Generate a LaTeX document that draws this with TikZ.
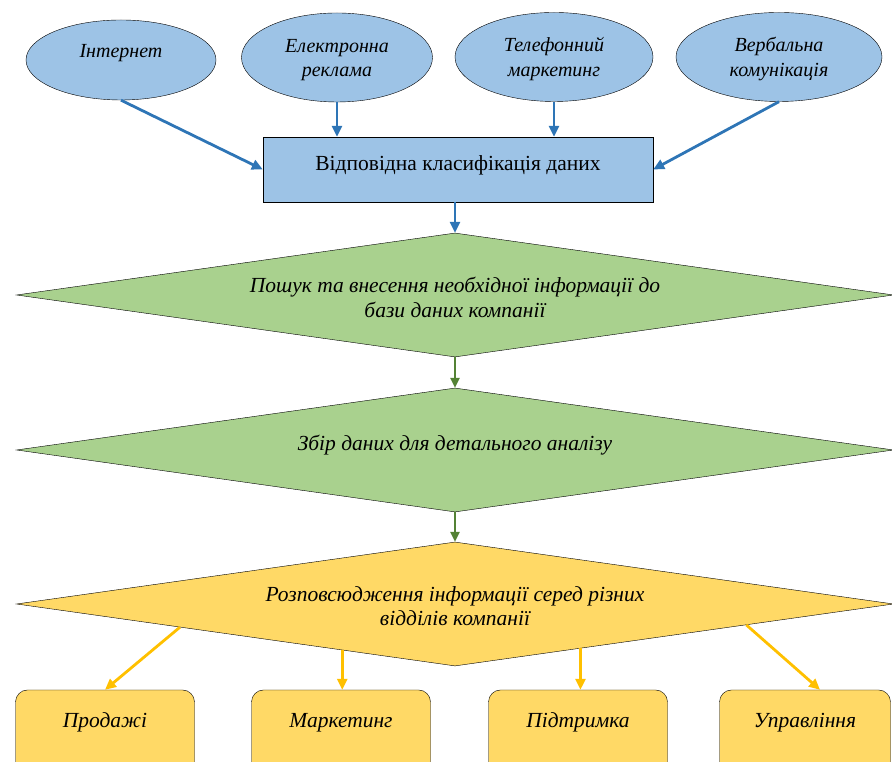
\documentclass[tikz,border=0pt]{standalone}
\usepackage{fontspec}
\setmainfont{Liberation Serif}
\usetikzlibrary{arrows.meta}
\usetikzlibrary{shapes.geometric}
\usetikzlibrary{calc}

\definecolor{bluefill}{HTML}{9DC3E6}
\definecolor{bluearrow}{HTML}{2E75B6}
\definecolor{greenfill}{HTML}{A9D18E}
\definecolor{greenarrow}{HTML}{548235}
\definecolor{yellowfill}{HTML}{FFD966}
\definecolor{yellowarrow}{HTML}{FFC000}

% text lines, lifted by #1
\newcommand{\lift}[2][0pt]{\raisebox{#1}[\height][\depth]{\begin{tabular}{@{}c@{}}#2\end{tabular}}}

\begin{document}
\begin{tikzpicture}[x=1pt,y=1pt]
	\clip (0,0) rectangle (892,762);

	\begin{scope}[every node/.style={ellipse, draw, fill=bluefill, inner sep=0pt,
	              font=\fontsize{20}{24.5}\selectfont\itshape}]
		\node[minimum width=190, minimum height=80] (internet) at (121,702) {\lift[7pt]{Інтернет}};
		\node[minimum width=191, minimum height=89] (ads) at (337,704.5) {\lift[-2pt]{Електронна\\реклама}};
		\node[minimum width=198, minimum height=89] (phone) at (554,705) {\lift[-2pt]{Телефонний\\маркетинг}};
		\node[minimum width=206, minimum height=89] (verbal) at (779,705) {\lift[-2pt]{Вербальна\\комунікація}};
	\end{scope}

	\node[draw, fill=bluefill, inner sep=0pt, minimum width=390, minimum height=65,
	      font=\fontsize{21.5}{24.5}\selectfont] (class) at (458,592.5) {\lift[4pt]{Відповідна класифікація даних}};

	\begin{scope}[every node/.style={diamond, draw, aspect=7, inner sep=0pt,
	              minimum width=877, minimum height=124, font=\fontsize{21.5}{24.5}\selectfont\itshape}]
		\node[fill=greenfill] (search) at (455,467) {\lift[-5pt]{Пошук та внесення необхідної інформації до\\бази даних компанії}};
		\node[fill=greenfill] (collect) at (455,312) {\lift[4pt]{Збір даних для детального аналізу}};
		\node[fill=yellowfill] (spread) at (455,158) {\lift[-4.5pt]{Розповсюдження інформації серед різних\\відділів компанії}};
	\end{scope}

	\begin{scope}[every node/.style={draw, fill=yellowfill, rounded corners=12, inner sep=0pt,
	              minimum width=179, minimum height=90, font=\fontsize{21.5}{24.5}\selectfont\itshape}]
		\node (sales) at (105,27) {\lift[12pt]{Продажі}};
		\node (market) at (341,27) {\lift[12pt]{Маркетинг}};
		\node (support) at (578,27) {\lift[12pt]{Підтримка}};
		\node[minimum width=171] (manage) at (805,27) {\lift[12pt]{Управління}};
	\end{scope}

	\coordinate (s1) at ($(spread.west)!0.373!(spread.south)$);
	\coordinate (s2) at ($(spread.west)!0.743!(spread.south)$);
	\coordinate (s3) at ($(spread.south)!0.286!(spread.east)$);
	\coordinate (s4) at ($(spread.south)!0.664!(spread.east)$);

	\begin{scope}[>={Triangle[length=11pt,width=10pt]},
	              every edge/.style={draw=bluearrow, line width=2.8pt, ->}]
		\path (internet.south) edge (class.west);
		\path (ads) edge (ads |- class.north);
		\path (phone) edge (phone |- class.north);
		\path (verbal.south) edge (class.east);
		\path (search.north |- class.south) edge (search.north);
	\end{scope}

	\begin{scope}[>={Triangle[length=10pt,width=9pt]},
	              every edge/.style={draw=greenarrow, line width=2.6pt, ->}]
		\path (search.south) edge (collect.north);
		\path (collect.south) edge (spread.north);
	\end{scope}

	\begin{scope}[>={Triangle[length=11pt,width=10pt]},
	              every edge/.style={draw=yellowarrow, line width=2.8pt, ->}]
		\path (s1) edge (sales.north);
		\path (s2) edge (s2 |- market.north);
		\path (s3) edge (s3 |- support.north);
		\path (s4) edge ([xshift=15pt]manage.north);
	\end{scope}
\end{tikzpicture}
\end{document}
